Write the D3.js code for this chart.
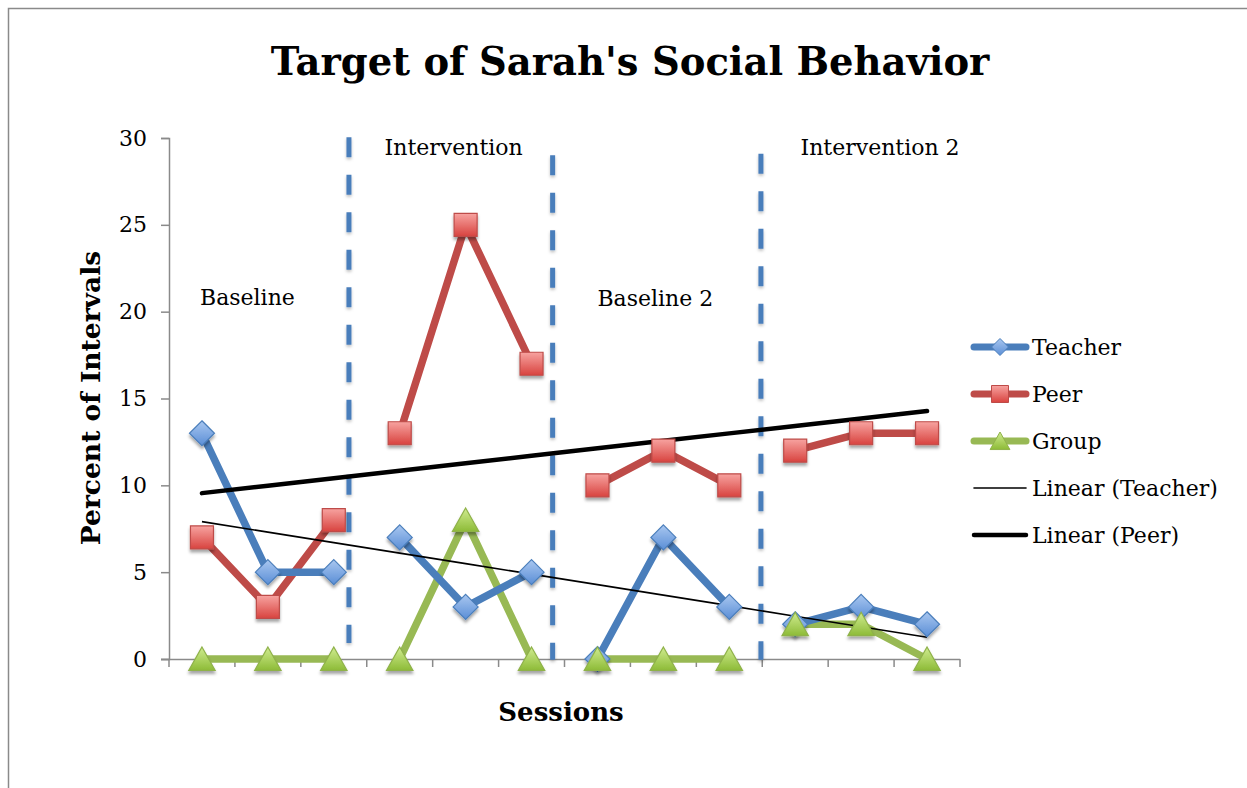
<!DOCTYPE html>
<html>
<head>
<meta charset="utf-8">
<script src="https://cdn.jsdelivr.net/npm/d3@7"></script>
<style>
  body { margin: 0; background: #fff; }
  svg { display: block; }
  text { font-family: "DejaVu Serif", serif; fill: #000; }
</style>
</head>
<body>
<svg id="chart" width="1247" height="788"></svg>
<script>
// ---- data ----
const sessions = [1, 2, 3, 4, 5, 6, 7, 8, 9, 10, 11, 12];
const phaseOfSession = [0, 0, 0, 1, 1, 1, 2, 2, 2, 3, 3, 3];
const phases = ["Baseline", "Intervention", "Baseline 2", "Intervention 2"];
const teacher = [13, 5, 5, 7, 3, 5, 0, 7, 3, 2, 3, 2];
const peer = [7, 3, 8, 13, 25, 17, 10, 12, 10, 12, 13, 13];
const group = [0, 0, 0, 0, 8, 0, 0, 0, 0, 2, 2, 0];
const yTicks = [0, 5, 10, 15, 20, 25, 30];
const seriesNames = ["Teacher", "Peer", "Group"];
const trendNames = ["Linear (Teacher)", "Linear (Peer)"];

// ---- layout ----
const W = 1247, H = 788;
const plot = {left: 169, right: 960, top: 138, bottom: 659};
// phase label anchors: [band units from left, y value]
const phaseLabelPos = [[0.47, 20.4], [3.27, 29.0], [6.5, 20.3], [9.58, 29.0]];
// hand-drawn phase dividers: [band units, y top, y bottom]
const dividers = [[2.73, 30.05, 0.92], [5.82, 29.0, -0.05], [8.98, 29.1, -0.05]];

const svg = d3.select("#chart");
const defs = svg.append("defs");

const shadow = defs.append("filter").attr("id", "shadow")
  .attr("x", "-50%").attr("y", "-50%").attr("width", "200%").attr("height", "200%");
shadow.append("feDropShadow").attr("dx", 0).attr("dy", 3).attr("stdDeviation", 1.8)
  .attr("flood-color", "#000").attr("flood-opacity", 0.35);
// vertical lines have a zero-width box, so their shadow works in page units
const shadowUs = defs.append("filter").attr("id", "shadow-us")
  .attr("filterUnits", "userSpaceOnUse")
  .attr("x", 0).attr("y", 0).attr("width", W).attr("height", H);
shadowUs.append("feDropShadow").attr("dx", 0).attr("dy", 2).attr("stdDeviation", 1.5)
  .attr("flood-color", "#000").attr("flood-opacity", 0.25);

const styles = {
  Teacher: {line: "#4a7ebb", top: "#a9c7f0", bottom: "#5a8ed6", edge: "#4a7ebb"},
  Peer: {line: "#be4b48", top: "#f7a3a0", bottom: "#d8433f", edge: "#be4b48"},
  Group: {line: "#98b954", top: "#d0ec90", bottom: "#8dbb37", edge: "#8fb249"}
};
seriesNames.forEach(n => {
  const g = defs.append("linearGradient").attr("id", "grad-" + n)
    .attr("x1", 0).attr("y1", 0).attr("x2", 0).attr("y2", 1);
  g.append("stop").attr("offset", "0%").attr("stop-color", styles[n].top);
  g.append("stop").attr("offset", "100%").attr("stop-color", styles[n].bottom);
});

// frame from the source document
svg.append("path")
  .attr("d", "M8.5," + H + "V8.5H" + W)
  .attr("fill", "none").attr("stroke", "#8a8a8a").attr("stroke-width", 1.5);

const x = d3.scaleBand().domain(sessions).range([plot.left, plot.right]);
const bw = x.bandwidth();
const cx = s => x(s) + bw / 2;
const bx = u => plot.left + u * bw;
const y = d3.scaleLinear().domain([0, 30]).range([plot.bottom, plot.top]);

svg.append("text")
  .attr("x", 630).attr("y", 75)
  .attr("text-anchor", "middle")
  .style("font-size", "38.5px").style("font-weight", "bold")
  .text("Target of Sarah's Social Behavior");

// axes
const yAxis = svg.append("g")
  .attr("transform", "translate(" + plot.left + ",0)")
  .call(d3.axisLeft(y).tickValues(yTicks).tickSize(8).tickPadding(14));
const xAxis = svg.append("g")
  .attr("transform", "translate(0," + plot.bottom + ")")
  .call(d3.axisBottom(x).tickSize(0).tickFormat(""));
xAxis.selectAll(".tick").remove();
xAxis.selectAll(".xtick")
  .data(d3.range(sessions.length + 1))
  .enter().append("line")
  .attr("x1", d => bx(d)).attr("x2", d => bx(d))
  .attr("y1", 0).attr("y2", 8);
[yAxis, xAxis].forEach(a => {
  a.select(".domain").attr("stroke", "#8a8a8a").attr("stroke-width", 1.5);
  a.selectAll("line").attr("stroke", "#8a8a8a").attr("stroke-width", 1.5);
});
xAxis.select(".domain").attr("d", "M" + (plot.left - 8) + ",0.5H" + plot.right);
yAxis.selectAll("text").style("font-size", "22px").style("font-family", "'DejaVu Serif', serif");

svg.append("text")
  .attr("transform", "translate(100,398) rotate(-90)")
  .attr("text-anchor", "middle")
  .style("font-size", "26.5px").style("font-weight", "bold")
  .text("Percent of Intervals");
svg.append("text")
  .attr("x", 561).attr("y", 721)
  .attr("text-anchor", "middle")
  .style("font-size", "26px").style("font-weight", "bold")
  .text("Sessions");

// phase dividers
svg.append("g").selectAll("line")
  .data(dividers).enter().append("line")
  .attr("x1", d => bx(d[0])).attr("x2", d => bx(d[0]))
  .attr("y1", d => y(d[1])).attr("y2", d => y(d[2]))
  .attr("stroke", "#4a7ebb").attr("stroke-width", 5)
  .attr("stroke-dasharray", "20,17.5")
  .attr("filter", "url(#shadow-us)");

svg.append("g").selectAll("text")
  .data(phases).enter().append("text")
  .attr("x", (d, i) => bx(phaseLabelPos[i][0]))
  .attr("y", (d, i) => y(phaseLabelPos[i][1]))
  .style("font-size", "22px")
  .text(d => d);

// trend lines (least squares over session number)
function fit(vals) {
  const mx = d3.mean(sessions), my = d3.mean(vals);
  const sxy = d3.sum(sessions, (s, i) => (s - mx) * (vals[i] - my));
  const sxx = d3.sum(sessions, s => (s - mx) * (s - mx));
  const b = sxy / sxx, a = my - b * mx;
  return sessions.map(s => [s, a + b * s]);
}
const trendLine = d3.line().x(d => cx(d[0])).y(d => y(d[1]));

// series
const data = {Teacher: teacher, Peer: peer, Group: group};
const line = d3.line().x(d => cx(d.s)).y(d => y(d.v));

function marker(name, r) {
  if (name === "Teacher") return "M0," + (-r) + "L" + r + ",0L0," + r + "L" + (-r) + ",0Z";
  if (name === "Peer") return "M" + (-r) + "," + (-r) + "H" + r + "V" + r + "H" + (-r) + "Z";
  return "M0," + (-r * 1.0) + "L" + (r * 1.1) + "," + (r * 0.95) + "H" + (-r * 1.1) + "Z";
}
const markerSize = {Teacher: 12.5, Peer: 11.5, Group: 12};

["Group", "Peer", "Teacher"].forEach(name => {
  const vals = data[name];
  const g = svg.append("g");
  // one path per phase, so the phases stay apart
  d3.range(phases.length).forEach(p => {
    const pts = sessions.map((s, i) => ({s: s, v: vals[i], p: phaseOfSession[i]}))
      .filter(d => d.p === p);
    g.append("path")
      .attr("d", line(pts))
      .attr("fill", "none")
      .attr("stroke", styles[name].line)
      .attr("stroke-width", 7.5)
      .attr("stroke-linejoin", "round");
  });
});

const trendStyles = {"Linear (Teacher)": 1.6, "Linear (Peer)": 4.5};
svg.append("path").attr("d", trendLine(fit(teacher)))
  .attr("fill", "none").attr("stroke", "#000").attr("stroke-width", trendStyles["Linear (Teacher)"]);
svg.append("path").attr("d", trendLine(fit(peer)))
  .attr("fill", "none").attr("stroke", "#000").attr("stroke-width", trendStyles["Linear (Peer)"])
  .attr("stroke-linecap", "round");

["Teacher", "Peer", "Group"].forEach(name => {
  svg.append("g").selectAll("path")
    .data(sessions.map((s, i) => ({s: s, v: data[name][i]})))
    .enter().append("path")
    .attr("transform", d => "translate(" + cx(d.s) + "," + y(d.v) + ")")
    .attr("d", marker(name, markerSize[name]))
    .attr("fill", "url(#grad-" + name + ")")
    .attr("stroke", styles[name].edge).attr("stroke-width", 1.2)
    .attr("filter", "url(#shadow)");
});

// legend
const legendRows = seriesNames.concat(trendNames);
const lg = svg.append("g").attr("transform", "translate(972,347)");
const row = lg.selectAll("g").data(legendRows).enter().append("g")
  .attr("transform", (d, i) => "translate(0," + i * 47 + ")");
row.each(function(d) {
  const r = d3.select(this);
  if (styles[d]) {
    r.append("line").attr("x1", 2).attr("x2", 54).attr("y1", 0).attr("y2", 0)
      .attr("stroke", styles[d].line).attr("stroke-width", 7).attr("stroke-linecap", "round");
    r.append("path").attr("transform", "translate(28,0)")
      .attr("d", marker(d, d === "Group" ? 9 : 8.5))
      .attr("fill", "url(#grad-" + d + ")")
      .attr("stroke", styles[d].edge).attr("stroke-width", 1);
  } else {
    r.append("line").attr("x1", 2).attr("x2", 54).attr("y1", 0).attr("y2", 0)
      .attr("stroke", "#000").attr("stroke-width", trendStyles[d])
      .attr("stroke-linecap", "round");
  }
  r.append("text").attr("x", 60).attr("y", 8)
    .style("font-size", "22px").text(d);
});
</script>
</body>
</html>
